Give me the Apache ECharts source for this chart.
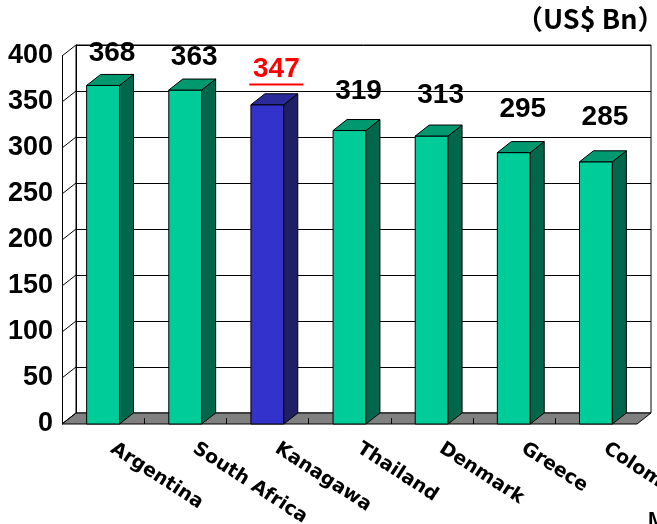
<!DOCTYPE html>
<html><head><meta charset="utf-8">
<script src="https://cdn.jsdelivr.net/npm/echarts@6/dist/echarts.min.js"></script>
<style>html,body{margin:0;padding:0;background:#fff}#c{width:657px;height:524px}</style>
</head><body><div id="c"></div>
<script>
// ---- data ----
const categories = ['Argentina', 'South Africa', 'Kanagawa', 'Thailand', 'Denmark', 'Greece', 'Colombia'];
const values = [368, 363, 347, 319, 313, 295, 285];
const yMin = 0, yMax = 400, yInterval = 50;
const yTickValues = [0, 50, 100, 150, 200, 250, 300, 350, 400];
const highlightCategory = 'Kanagawa';
const unitText = '（US$ Bn）';
const footText = 'M';

// ---- style / layout ----
const DX = 14, DY = -11;
const FRONT = { left: 62, right: 20, top: 56, bottom: 100 };
const BACK = { left: FRONT.left + DX, right: FRONT.right - DX, top: FRONT.top + DY, bottom: FRONT.bottom - DY };
const COLORS = {
  normal: { front: '#00CC99', top: '#00996F', side: '#00664C', label: '#000000' },
  highlight: { front: '#3333CC', top: '#2A2A99', side: '#1F1F66', label: '#FF0000' }
};
const FONT = 'Liberation Sans, Arial, sans-serif';
const CAT_FONT = 'DejaVu Sans, sans-serif';

const chart = echarts.init(document.getElementById('c'), null, { renderer: 'canvas' });

const option = {
  animation: false,
  backgroundColor: '#ffffff',
  grid: [
    { left: FRONT.left, right: FRONT.right, top: FRONT.top, bottom: FRONT.bottom, containLabel: false, outerBoundsMode: 'none' },
    { left: BACK.left, right: BACK.right, top: BACK.top, bottom: BACK.bottom, containLabel: false, outerBoundsMode: 'none',
      show: true, backgroundColor: '#ffffff', borderColor: '#000000', borderWidth: 1, z: 0 }
  ],
  xAxis: [
    { gridIndex: 0, type: 'category', data: categories,
      axisLine: { show: false }, axisTick: { show: false }, splitLine: { show: false },
      axisLabel: { interval: 0, rotate: -33, margin: 17, padding: [0, 0, 0, 11], hideOverlap: false,
        fontFamily: CAT_FONT, fontWeight: 'bold', fontSize: 19, color: '#000' } },
    { gridIndex: 1, type: 'category', data: categories, show: false }
  ],
  yAxis: [
    { gridIndex: 0, type: 'value', min: yMin, max: yMax, interval: yInterval,
      axisLine: { show: true, lineStyle: { color: '#000', width: 1 } },
      axisTick: { show: false }, splitLine: { show: false },
      axisLabel: { margin: 9, fontFamily: FONT, fontWeight: 'bold', fontSize: 27, color: '#000' } },
    { gridIndex: 1, type: 'value', min: yMin, max: yMax, interval: yInterval,
      axisLine: { show: true, lineStyle: { color: '#000', width: 1 } },
      axisTick: { show: false }, axisLabel: { show: false },
      splitLine: { show: true, lineStyle: { color: '#000', width: 1 } } }
  ],
  series: [
    { // floor
      type: 'custom', xAxisIndex: 0, yAxisIndex: 0, z: 1, silent: true, clip: false,
      data: [[0, 0]],
      renderItem: function (params, api) {
        const cs = params.coordSys;
        const y0 = api.coord([0, 0])[1];
        const band = api.size([1, 0])[0];
        const children = [{
          type: 'polygon',
          shape: { points: [[cs.x, y0], [cs.x + cs.width, y0], [cs.x + cs.width + DX, y0 + DY], [cs.x + DX, y0 + DY]] },
          style: { fill: '#808080', stroke: '#000', lineWidth: 1 }
        }];
        for (let k = 1; k < categories.length; k++) {
          const x = Math.round(cs.x + k * band) + 0.5;
          children.push({ type: 'line', shape: { x1: x, y1: y0, x2: x, y2: y0 - 6 },
            style: { stroke: '#000', lineWidth: 1 } });
        }
        return { type: 'group', children: children };
      }
    },
    { // left wall diagonals
      type: 'custom', xAxisIndex: 0, yAxisIndex: 0, z: 1, silent: true, clip: false,
      data: yTickValues.map(v => [0, v]),
      renderItem: function (params, api) {
        const cs = params.coordSys;
        const y = api.coord([0, api.value(1)])[1];
        return { type: 'line', shape: { x1: cs.x, y1: y, x2: cs.x + DX, y2: y + DY },
          style: { stroke: '#000', lineWidth: 1 } };
      }
    },
    { // 3D bars
      type: 'custom', xAxisIndex: 0, yAxisIndex: 0, z: 3, silent: true, clip: false,
      data: values.map((v, i) => [i, v]),
      renderItem: function (params, api) {
        const i = api.value(0), v = api.value(1);
        const c0 = api.coord([i, 0]), c1 = api.coord([i, v]);
        const band = api.size([1, 0])[0];
        const bw = band * 0.4;
        const xl = c0[0] - bw / 2, xr = xl + bw, yb = c0[1], yt = c1[1];
        const hi = categories[i] === highlightCategory;
        const col = hi ? COLORS.highlight : COLORS.normal;
        const stroke = { stroke: '#000', lineWidth: 1 };
        const yBackTop = yt + DY;
        const labelCenterY = 0.837 * yBackTop + 1 - 10;
        const labelX = c0[0] + 9;
        const children = [
          { type: 'rect', shape: { x: xl, y: yt, width: bw, height: yb - yt },
            style: Object.assign({ fill: col.front }, stroke) },
          { type: 'polygon', shape: { points: [[xr, yt], [xr + DX, yt + DY], [xr + DX, yb + DY], [xr, yb]] },
            style: Object.assign({ fill: col.side }, stroke) },
          { type: 'polygon', shape: { points: [[xl, yt], [xr, yt], [xr + DX, yt + DY], [xl + DX, yt + DY]] },
            style: Object.assign({ fill: col.top }, stroke) },
          { type: 'text', x: labelX, y: labelCenterY,
            style: { text: String(v), fill: col.label, font: 'bold 28px ' + FONT,
              textAlign: 'center', textVerticalAlign: 'middle' } }
        ];
        if (hi) {
          children.push({ type: 'rect', shape: { x: labelX - 27, y: labelCenterY + 14, width: 54, height: 2 },
            style: { fill: col.label } });
        }
        return { type: 'group', children: children };
      }
    }
  ],
  graphic: [
    { type: 'text', left: 516, top: 5,
      style: { text: unitText, font: 'bold 27px "Noto Sans CJK JP", sans-serif', fill: '#000' } },
    { type: 'text', left: 648, top: 510,
      style: { text: footText, font: 'bold 21px ' + FONT, fill: '#000' } }
  ]
};
chart.setOption(option);
</script>
</body></html>
